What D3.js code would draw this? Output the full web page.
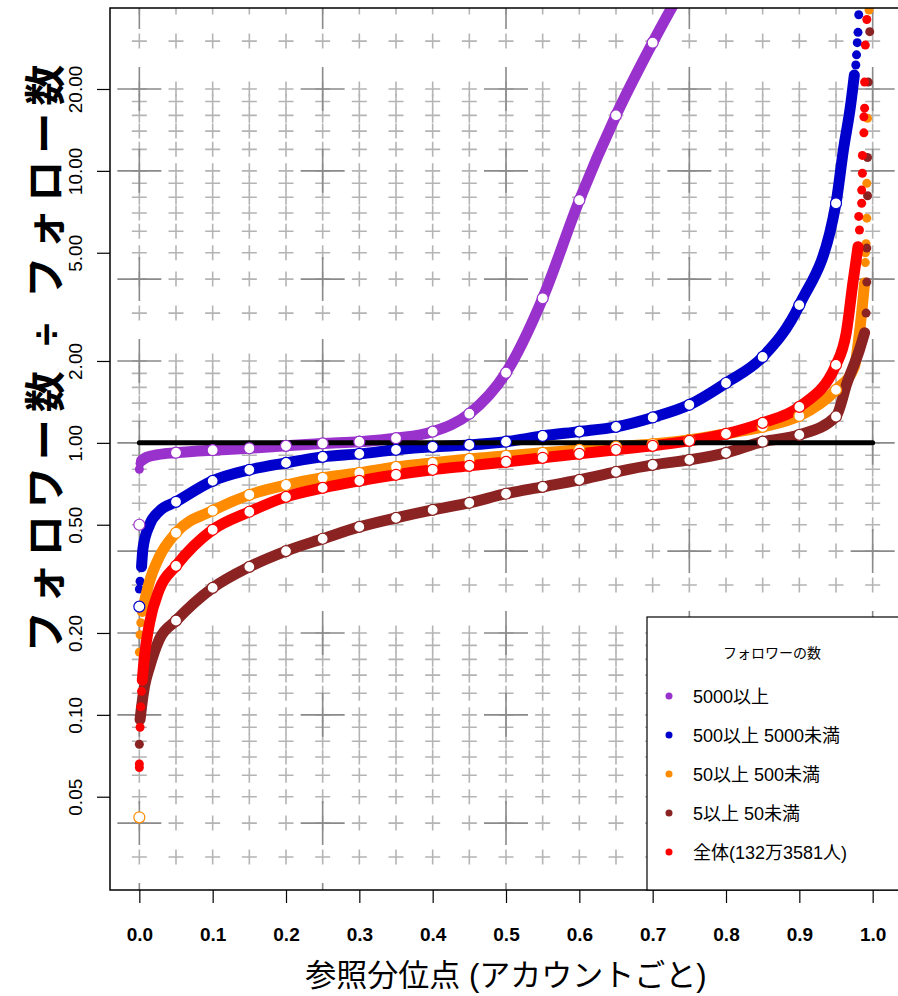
<!DOCTYPE html>
<html>
<head>
<meta charset="utf-8">
<script src="https://cdn.jsdelivr.net/npm/d3@7"></script>
<style>
  body { margin: 0; background: #fff; }
  text { font-family: "Liberation Sans", "Noto Sans CJK JP", sans-serif; }
</style>
</head>
<body>
<div id="viz"></div>
<script>
// quantile positions of the white markers
const markerQ = [0.05, 0.10, 0.15, 0.20, 0.25, 0.30, 0.35, 0.40, 0.45, 0.50,
                 0.55, 0.60, 0.65, 0.70, 0.75, 0.80, 0.85, 0.90, 0.95]

const names = ["5000以上", "500以上 5000未満", "50以上 500未満", "5以上 50未満", "全体(132万3581人)"]
const colors = ["#9932cc", "#0000cd", "#ff8c00", "#8b2323", "#ff0000"]

// values at q = 0 (min)
const minValues = [0.50, 0.25, 0.042, null, null]

// values at markerQ
const purpleVals = [0.92, 0.94, 0.955, 0.975, 0.995, 1.01, 1.04, 1.10, 1.28, 1.81,
                    3.40, 7.80, 16.0, 29.6, 52, null, null, null, null]
const blueVals = [0.607, 0.725, 0.796, 0.844, 0.888, 0.911, 0.943, 0.967, 0.983, 1.01,
                  1.06, 1.10, 1.145, 1.24, 1.38, 1.66, 2.07, 3.21, 7.6]
const orangeVals = [0.467, 0.563, 0.644, 0.70, 0.744, 0.776, 0.816, 0.844, 0.873, 0.896,
                    0.919, 0.943, 0.967, 0.99, 1.025, 1.08, 1.145, 1.256, 1.566]
const brownVals = [0.222, 0.293, 0.35, 0.40, 0.444, 0.491, 0.53, 0.567, 0.602, 0.65,
                   0.689, 0.731, 0.782, 0.83, 0.866, 0.919, 1.01, 1.07, 1.25]
const redVals = [0.353, 0.479, 0.558, 0.633, 0.683, 0.725, 0.763, 0.796, 0.823, 0.851,
                 0.881, 0.911, 0.943, 0.975, 1.017, 1.079, 1.184, 1.356, 1.935]

// dense part of each curve before the first marker / after the last
const heads = [
  [[0.003, 0.86], [0.01, 0.885], [0.025, 0.905]],
  [[0.003, 0.35], [0.005, 0.41], [0.014, 0.50], [0.027, 0.56]],
  [[0.004, 0.24], [0.014, 0.31], [0.027, 0.38]],
  [[0.001, 0.096], [0.003, 0.107], [0.007, 0.127], [0.014, 0.15], [0.027, 0.189]],
  [[0.004, 0.134], [0.007, 0.164], [0.014, 0.218], [0.027, 0.288]]
]
const tails = [
  [],
  [[0.96, 11.9], [0.97, 17.5], [0.975, 22.5]],
  [[0.975, 1.9], [0.982, 2.54], [0.989, 3.87]],
  [[0.965, 1.66], [0.982, 2.2], [0.989, 2.54]],
  [[0.964, 2.54], [0.973, 3.87], [0.98, 5.26]]
]
// separate points at the extreme quantiles
const looseDots = [
  [[0.0, 0.80], [0.001, 0.84]],
  [[0.0, 0.29], [0.001, 0.31], [0.977, 24.5], [0.978, 26.7], [0.979, 29.6], [0.98, 32.3], [0.981, 37.5]],
  [[0.0, 0.17], [0.001, 0.197], [0.002, 0.218], [0.99, 4.6], [0.99, 5.0], [0.991, 5.4],
   [0.992, 6.7], [0.992, 9.0], [0.993, 15.6], [0.995, 39]],
  [[0.0, 0.078], [0.991, 3.0], [0.992, 3.9], [0.992, 5.2], [0.993, 8.1], [0.993, 11.2],
   [0.994, 21.2], [0.996, 32.5]],
  [[0.003, 0.122], [0.002, 0.107], [0.001, 0.09], [0.0, 0.066], [0.0, 0.064],
   [0.982, 6.06], [0.981, 6.8], [0.985, 7.6], [0.985, 8.5], [0.986, 9.8], [0.986, 11.4],
   [0.988, 13.8], [0.988, 15.8], [0.989, 17.0], [0.989, 21.2], [0.99, 29], [0.992, 36]]
]
const seriesVals = [purpleVals, blueVals, orangeVals, brownVals, redVals]

const xTicks = [0, 0.1, 0.2, 0.3, 0.4, 0.5, 0.6, 0.7, 0.8, 0.9, 1.0]
const yTicks = [0.05, 0.1, 0.2, 0.5, 1, 2, 5, 10, 20]

// background crosses
const gridX = d3.range(0, 21).map(i => i / 20)
const gridXMajor = [0, 0.25, 0.5, 0.75, 1]
const gridY = [0.03, 0.04, 0.05, 0.06, 0.07, 0.08, 0.09, 0.1, 0.12, 0.14, 0.16, 0.18,
               0.2, 0.3, 0.4, 0.5, 0.6, 0.7, 0.8, 0.9, 1, 1.2, 1.4, 1.6, 1.8,
               2, 3, 4, 5, 6, 7, 8, 9, 10, 12, 14, 16, 18, 20, 30, 40]
const gridYMajor = [0.02, 0.04, 0.1, 0.2, 0.4, 1, 2, 4, 10, 20, 40]

const width = 898
const height = 996
const mLeft = 110, mRight = 902, mTop = 8, mBottom = 890

const svg = d3.select("#viz").append("svg")
  .attr("width", width)
  .attr("height", height)

const x = d3.scaleLinear().domain([-0.04, 1.04]).range([mLeft, mRight])
const y = d3.scaleLog().domain([0.0227, 39.7]).range([mBottom, mTop])

svg.append("clipPath").attr("id", "plotclip")
  .append("rect")
  .attr("x", mLeft).attr("y", mTop)
  .attr("width", mRight - mLeft).attr("height", mBottom - mTop)

const plot = svg.append("g").attr("clip-path", "url(#plotclip)")

// crosses
function cross(g, cx, cy, arm, color, w) {
  g.append("path")
    .attr("d", `M${cx - arm},${cy}H${cx + arm}M${cx},${cy - arm}V${cy + arm}`)
    .attr("stroke", color)
    .attr("stroke-width", w)
    .attr("fill", "none")
}
const grid = plot.append("g")
gridX.forEach(gx => gridY.forEach(gy => cross(grid, x(gx), y(gy), 7.5, "#b4b4b4", 1.6)))
gridXMajor.forEach(gx => gridYMajor.forEach(gy => cross(grid, x(gx), y(gy), 22, "#8a8a8a", 1.6)))

// dense curves
const line = d3.line()
  .defined(d => d[1] != null)
  .x(d => x(d[0]))
  .y(d => y(d[1]))
  .curve(d3.curveMonotoneX)

seriesVals.forEach((vals, i) => {
  const pts = heads[i].concat(markerQ.map((q, j) => [q, vals[j]]).filter(d => d[1] != null), tails[i])
  plot.append("path")
    .datum(pts)
    .attr("d", line)
    .attr("fill", "none")
    .attr("stroke", colors[i])
    .attr("stroke-width", 11)
    .attr("stroke-linecap", "round")
    .attr("stroke-linejoin", "round")

  plot.selectAll(null)
    .data(looseDots[i])
    .enter()
    .append("circle")
    .attr("cx", d => x(d[0]))
    .attr("cy", d => y(d[1]))
    .attr("r", 4.5)
    .attr("fill", colors[i])
})

// the ratio 1 line
plot.append("line")
  .attr("x1", x(0)).attr("x2", x(1))
  .attr("y1", y(1)).attr("y2", y(1))
  .attr("stroke", "#000")
  .attr("stroke-width", 5)
  .attr("stroke-linecap", "round")

// white markers
seriesVals.forEach((vals, i) => {
  const m = markerQ.map((q, j) => [q, vals[j]]).filter(d => d[1] != null && d[1] < 39)
  if (minValues[i] != null) m.unshift([0, minValues[i]])
  plot.selectAll(null)
    .data(m)
    .enter()
    .append("circle")
    .attr("cx", d => x(d[0]))
    .attr("cy", d => y(d[1]))
    .attr("r", 5.5)
    .attr("fill", "#fff")
    .attr("stroke", colors[i])
    .attr("stroke-width", 1.2)
})

// axes
const xAxis = d3.axisBottom(x).tickValues(xTicks).tickSize(13).tickPadding(25)
  .tickFormat(d3.format(".1f"))
const gx = svg.append("g").attr("transform", `translate(0,${mBottom})`).call(xAxis)
gx.select(".domain").remove()
gx.selectAll("line").attr("stroke", "#000").attr("stroke-width", 1.2)
gx.selectAll("text")
  .attr("font-size", 19).attr("font-weight", "bold")
  .attr("font-family", "Liberation Sans, sans-serif")

const yAxis = d3.axisLeft(y).tickValues(yTicks).tickSize(13).tickFormat(d3.format(".2f"))
const gy = svg.append("g").attr("transform", `translate(${mLeft},0)`).call(yAxis)
gy.select(".domain").remove()
gy.selectAll("line").attr("stroke", "#000").attr("stroke-width", 1.2)
gy.selectAll("text")
  .attr("font-size", 19)
  .attr("font-family", "Liberation Sans, sans-serif")
  .attr("x", null).attr("dy", null)
  .attr("text-anchor", "middle")
  .attr("transform", "translate(-28,0) rotate(-90)")

// plot frame
svg.append("rect")
  .attr("x", mLeft).attr("y", mTop)
  .attr("width", mRight - mLeft).attr("height", mBottom - mTop)
  .attr("fill", "none").attr("stroke", "#000").attr("stroke-width", 1.5)

// axis titles
svg.append("text")
  .attr("x", 506).attr("y", 986)
  .attr("text-anchor", "middle")
  .attr("font-size", 31)
  .text("参照分位点 (アカウントごと)")

svg.append("text")
  .attr("transform", "translate(60,355) rotate(-90)")
  .attr("text-anchor", "middle")
  .attr("font-size", 41)
  .attr("font-weight", "bold")
  .attr("letter-spacing", 7)
  .text("フォロワー数 ÷ フォロー数")

// legend
const lg = svg.append("g")
lg.append("rect")
  .attr("x", 647).attr("y", 617)
  .attr("width", 260).attr("height", 273)
  .attr("fill", "#fff").attr("stroke", "#000").attr("stroke-width", 1.2)
lg.append("text")
  .attr("x", 772).attr("y", 658)
  .attr("text-anchor", "middle")
  .attr("font-size", 14)
  .text("フォロワーの数")
names.forEach((n, i) => {
  const cy = 696 + i * 39
  lg.append("circle").attr("cx", 669).attr("cy", cy).attr("r", 3.5).attr("fill", colors[i])
  lg.append("text").attr("x", 693).attr("y", cy + 7).attr("font-size", 18).text(n)
})
</script>
</body>
</html>
